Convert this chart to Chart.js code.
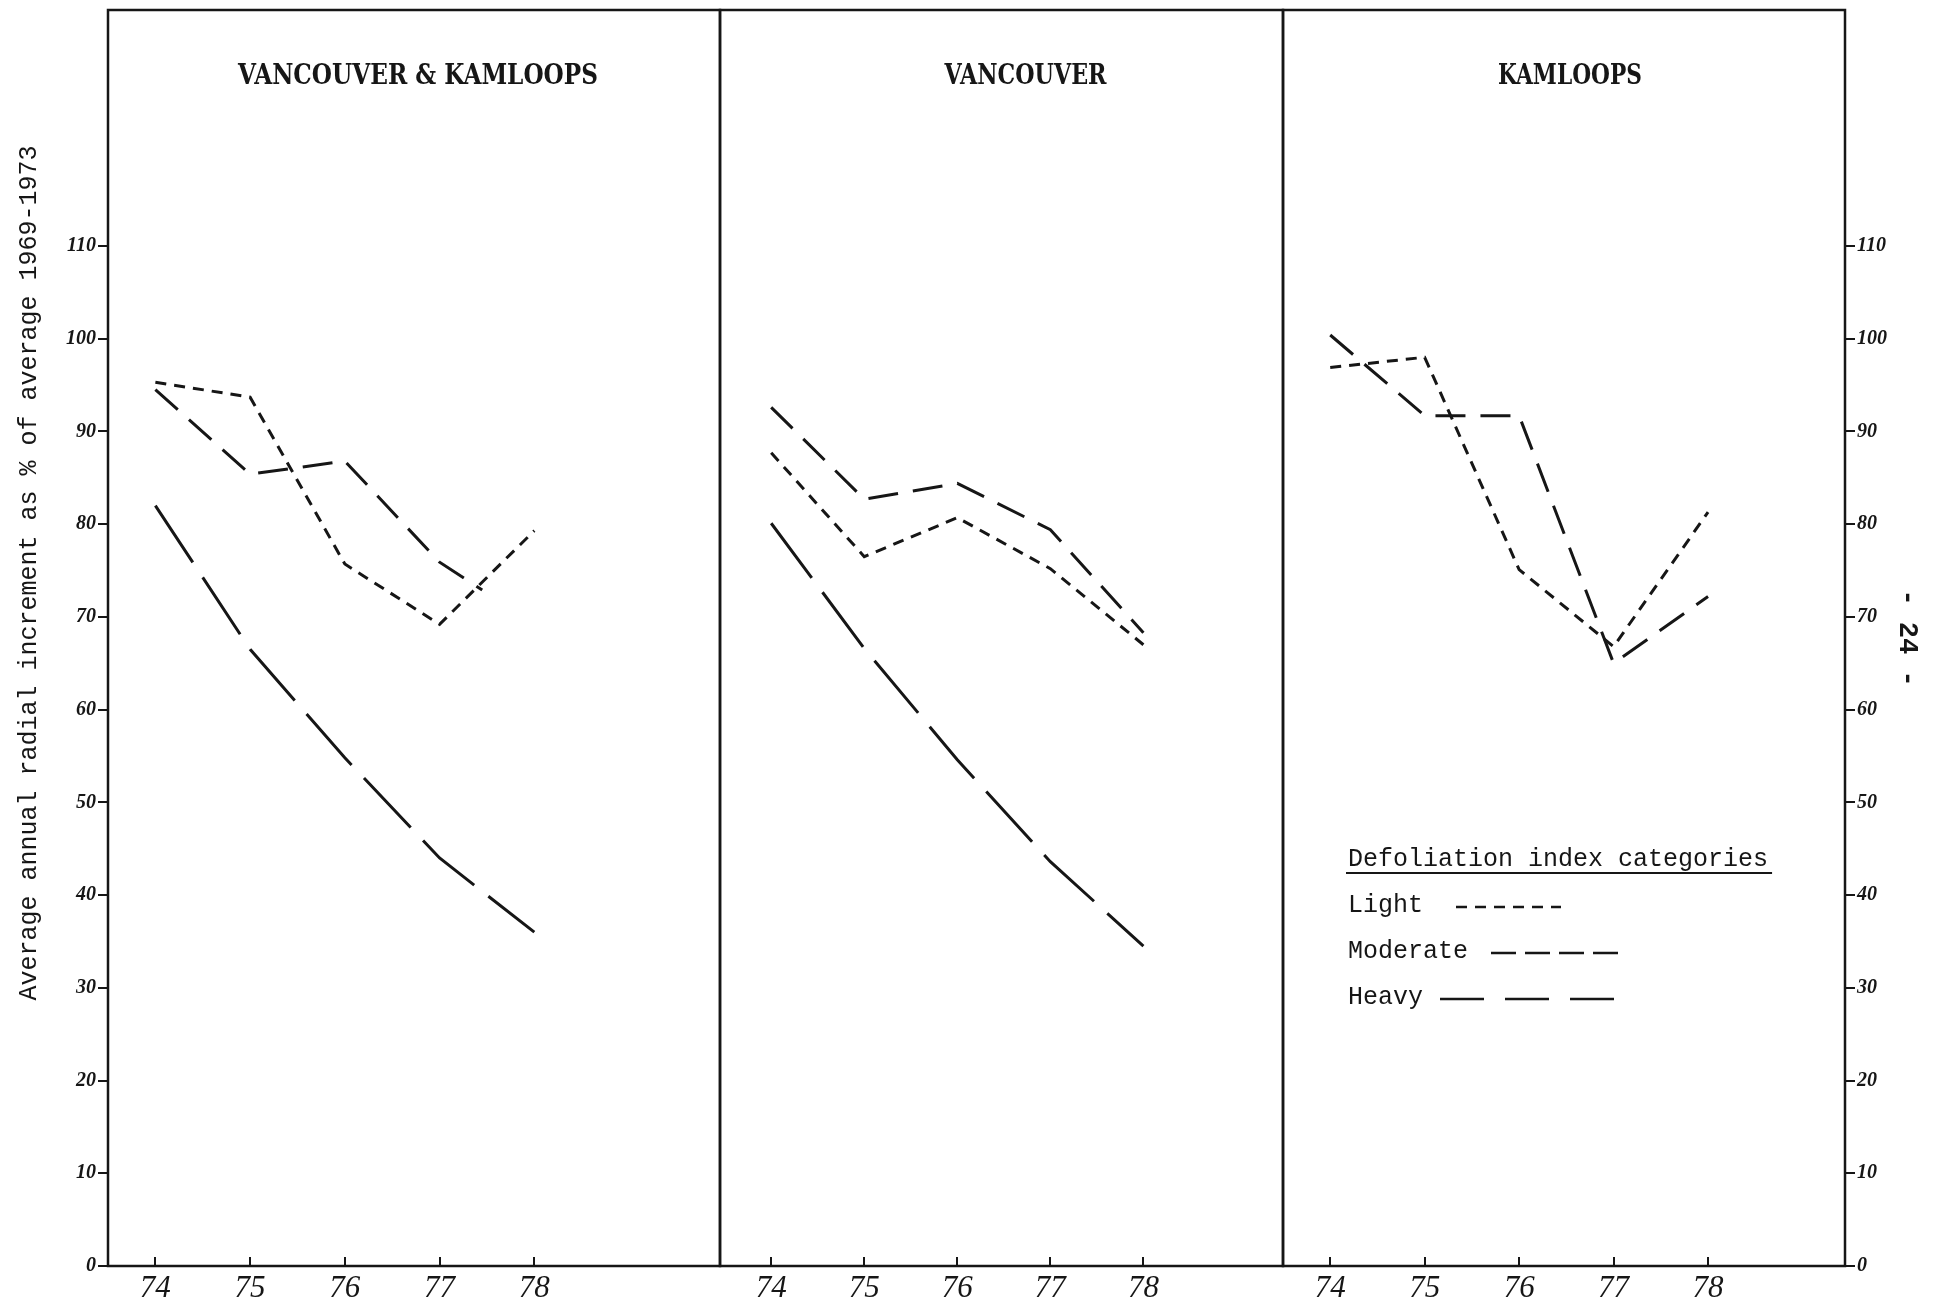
<!DOCTYPE html>
<html>
<head>
<meta charset="utf-8">
<script src="https://cdn.jsdelivr.net/npm/chart.js@4.4.1/dist/chart.umd.min.js"></script>
<style>
    html, body { margin: 0; padding: 0; background: #fff; }
    #page { position: relative; width: 1935px; height: 1310px; overflow: hidden; background: #fff; }
    #page canvas { position: absolute; left: 0; top: 0; }
</style>
</head>
<body>
<div id="page">
    <canvas id="both" width="1935" height="1310"></canvas>
    <canvas id="vancouver" width="1935" height="1310"></canvas>
    <canvas id="kamloops" width="1935" height="1310"></canvas>
</div>
<script>
// years on the bottom axis of every panel
const years = [74, 75, 76, 77, 78];
const yTicks = [0, 10, 20, 30, 40, 50, 60, 70, 80, 90, 100, 110];

// Vancouver & Kamloops
const bothLight = [95.3, 93.7, 75.7, 69.2, 79.3];
const bothModerateYears = [74, 75, 76, 77, 77.45]; // stops where it runs into Light
const bothModerate = [94.5, 85.4, 86.8, 75.9, 72.9];
const bothHeavy = [82.0, 66.5, 54.8, 44.0, 36.0];

// Vancouver
const vanLight = [87.7, 76.5, 80.7, 75.2, 67.0];
const vanModerate = [92.6, 82.7, 84.4, 79.4, 68.3];
const vanHeavy = [80.1, 66.6, 54.6, 43.6, 34.5];

// Kamloops (no heavy line on this panel)
const kamLight = [96.9, 98.0, 75.1, 66.8, 81.3];
const kamModerate = [100.4, 91.7, 91.7, 65.0, 72.2];

const yTitle = 'Average annual radial increment as % of average 1969-1973';
const legendTitle = 'Defoliation index categories';

const INK = '#161616';
const TYPE = '"Liberation Mono", "DejaVu Sans Mono", monospace';
const TOP = 10;

const dashes = {
    Light: [11, 8],
    Moderate: [30, 15],
    Heavy: [68, 18]
};

function points(xs, ys) {
    return ys.map(function (y, i) { return { x: xs[i], y: y }; });
}

function series(label, xs, ys) {
    return {
        label: label,
        data: points(xs, ys),
        borderColor: INK,
        borderWidth: 3,
        borderDash: dashes[label],
        borderCapStyle: 'butt',
        borderJoinStyle: 'miter',
        pointRadius: 0,
        tension: 0,
        fill: false
    };
}

// box round the plot area plus the panel heading
const panelFrame = {
    id: 'panelFrame',
    afterDraw(chart, args, opts) {
        const ctx = chart.ctx;
        const a = chart.chartArea;
        ctx.save();
        ctx.strokeStyle = INK;
        ctx.lineWidth = 2.5;
        ctx.strokeRect(a.left, a.top, a.right - a.left, a.bottom - a.top);

        ctx.font = 'bold 28px "DejaVu Serif", "Liberation Serif", serif';
        ctx.fillStyle = INK;
        ctx.textAlign = 'center';
        ctx.textBaseline = 'middle';
        const w = ctx.measureText(opts.title).width;
        ctx.translate((a.left + a.right) / 2 + opts.dx, a.top + 67);
        ctx.scale(opts.title.length * 18 / w, 1);
        ctx.fillText(opts.title, 0, 0);
        ctx.restore();
    }
};

// rotated typed caption of the value axis
const sideTitle = {
    id: 'sideTitle',
    afterDraw(chart, args, opts) {
        const ctx = chart.ctx;
        ctx.save();
        ctx.font = '25px ' + TYPE;
        ctx.fillStyle = INK;
        ctx.textAlign = 'center';
        ctx.textBaseline = 'middle';
        ctx.translate(opts.x, opts.y);
        ctx.rotate(-Math.PI / 2);
        ctx.fillText(opts.text, 0, 0);
        ctx.restore();
    }
};

// typed legend inside the Kamloops panel, page number in the margin
const defoliationLegend = {
    id: 'defoliationLegend',
    afterDraw(chart, args, opts) {
        const ctx = chart.ctx;
        ctx.save();
        ctx.font = '25px ' + TYPE;
        ctx.fillStyle = INK;
        ctx.strokeStyle = INK;
        ctx.textAlign = 'left';
        ctx.textBaseline = 'middle';

        ctx.fillText(opts.title, opts.x, opts.y);
        const tw = ctx.measureText(opts.title).width;
        ctx.lineWidth = 2;
        ctx.beginPath();
        ctx.moveTo(opts.x - 2, opts.y + 14);
        ctx.lineTo(opts.x + tw + 4, opts.y + 14);
        ctx.stroke();

        chart.data.datasets.forEach(function (ds, i) {
            const y = opts.y + opts.rowGap * (i + 1);
            ctx.fillText(ds.label, opts.x, y);
            ctx.lineWidth = 2.5;
            ctx.setLineDash(opts.sampleDash[i]);
            ctx.beginPath();
            ctx.moveTo(opts.sampleFrom[i], y + 2);
            ctx.lineTo(opts.sampleTo[i], y + 2);
            ctx.stroke();
            ctx.setLineDash([]);
        });

        ctx.font = 'bold 27px ' + TYPE;
        ctx.translate(opts.pageX, opts.pageY);
        ctx.rotate(Math.PI / 2);
        ctx.textAlign = 'center';
        ctx.fillText(opts.page, 0, 0);
        ctx.restore();
    }
};

const tickFontY = { family: '"Liberation Serif", serif', style: 'italic', weight: 'bold', size: 20 };
const tickFontX = { family: '"Liberation Serif", serif', style: 'italic', size: 31 };

function xScale(min, max) {
    return {
        type: 'linear',
        min: min,
        max: max,
        afterBuildTicks: function (s) { s.ticks = years.map(function (v) { return { value: v }; }); },
        afterFit: function (s) { s.height = 44; },
        grid: { drawOnChartArea: false, tickLength: -9, color: INK, lineWidth: 2 },
        border: { display: false },
        ticks: { font: tickFontX, color: INK, padding: 13, maxRotation: 0, callback: function (v) { return String(v); } }
    };
}

function yScale(show, position) {
    return {
        display: show,
        position: position,
        min: 0,
        max: 135.45,
        afterBuildTicks: function (s) { s.ticks = yTicks.map(function (v) { return { value: v }; }); },
        afterFit: function (s) {
            // same plot top in every panel, whatever the labels need
            s.paddingTop = 0;
            s.paddingBottom = 0;
            if (!show) {
                s.width = 0;
            } else {
                s.width = position === 'left' ? 108 : 90;
            }
        },
        grid: { drawOnChartArea: false, tickLength: 10, color: INK, lineWidth: 2 },
        border: { display: false },
        ticks: { font: tickFontY, color: INK, padding: 2 }
    };
}

function baseOptions(padding) {
    return {
        responsive: false,
        animation: false,
        events: [],
        layout: { padding: padding },
        plugins: {
            legend: { display: false },
            tooltip: { enabled: false }
        }
    };
}

function createBothChart() {
    let options = baseOptions({ left: 0, right: 1935 - 720, top: TOP, bottom: 0 });
    options.scales = { x: xScale(73.5, 79.96), y: yScale(true, 'left') };
    options.plugins.panelFrame = { title: 'VANCOUVER & KAMLOOPS', dx: 4 };
    options.plugins.sideTitle = { text: yTitle, x: 29, y: 573 };

    new Chart(document.getElementById('both'), {
        type: 'line',
        data: {
            datasets: [
                series('Light', years, bothLight),
                series('Moderate', bothModerateYears, bothModerate),
                series('Heavy', years, bothHeavy)
            ]
        },
        options: options,
        plugins: [panelFrame, sideTitle]
    });
}

function createVancouverChart() {
    let options = baseOptions({ left: 720, right: 1935 - 1283, top: TOP, bottom: 0 });
    options.scales = { x: xScale(73.45, 79.5), y: yScale(false, 'left') };
    options.plugins.panelFrame = { title: 'VANCOUVER', dx: 24 };

    new Chart(document.getElementById('vancouver'), {
        type: 'line',
        data: {
            datasets: [
                series('Light', years, vanLight),
                series('Moderate', years, vanModerate),
                series('Heavy', years, vanHeavy)
            ]
        },
        options: options,
        plugins: [panelFrame]
    });
}

function createKamloopsChart() {
    let options = baseOptions({ left: 1283, right: 0, top: TOP, bottom: 0 });
    options.scales = { x: xScale(73.5, 79.45), y: yScale(true, 'right') };
    options.plugins.panelFrame = { title: 'KAMLOOPS', dx: 6 };
    options.plugins.defoliationLegend = {
        title: legendTitle,
        x: 1348,
        y: 859,
        rowGap: 46,
        sampleFrom: [1456, 1491, 1440],
        sampleTo: [1561, 1618, 1614],
        sampleDash: [[11, 8], [25, 9], [44, 21]],
        page: '- 24 -',
        pageX: 1907,
        pageY: 638
    };

    new Chart(document.getElementById('kamloops'), {
        type: 'line',
        data: {
            datasets: [
                series('Light', years, kamLight),
                series('Moderate', years, kamModerate),
                series('Heavy', [], [])
            ]
        },
        options: options,
        plugins: [panelFrame, defoliationLegend]
    });
}

createBothChart();
createVancouverChart();
createKamloopsChart();
</script>
</body>
</html>
